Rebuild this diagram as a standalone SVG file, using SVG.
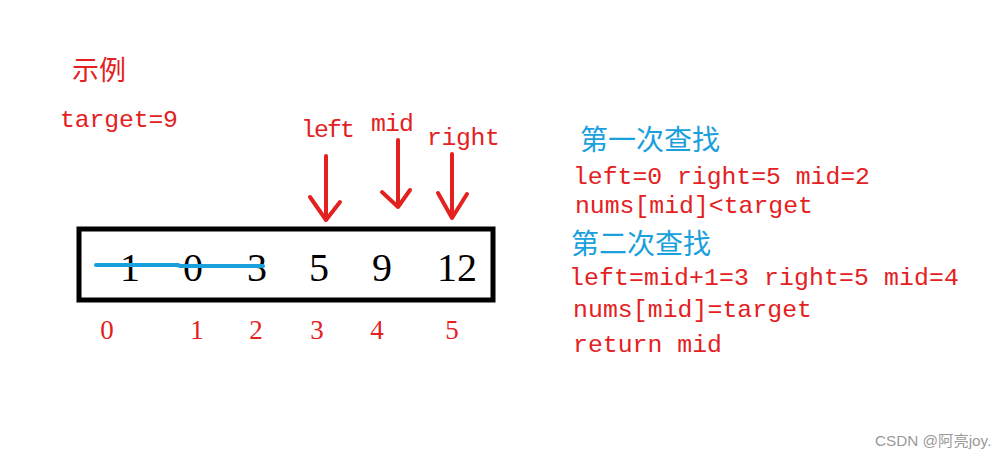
<svg xmlns="http://www.w3.org/2000/svg" width="1006" height="458" viewBox="0 0 1006 458">
<style>
.red{fill:#e3211f;font-family:"Liberation Mono",monospace;font-size:24.8px}
.cjkr{fill:#e3211f;font-family:"Noto Sans CJK SC",sans-serif;font-size:27px}
.cjkb{fill:#1aa0dc;font-family:"Noto Sans CJK SC",sans-serif;font-size:28px}
.num{fill:#000;font-family:"Liberation Serif",serif;font-size:40px;text-anchor:middle}
.idx{fill:#e3211f;font-family:"Liberation Serif",serif;font-size:27px;text-anchor:middle}
.arr{fill:none;stroke:#e3211f;stroke-width:4;stroke-linecap:round;stroke-linejoin:round}
</style>
<rect width="1006" height="458" fill="#fff"/>
<g id="title">
<text class="cjkr" x="72" y="80">示例</text>
<text class="red" x="60" y="127" textLength="118">target=9</text>
</g>
<g id="array">
<rect x="79" y="229" width="414" height="71" fill="none" stroke="#000" stroke-width="5"/>
<text class="num" x="130" y="281">1</text>
<text class="num" x="193" y="281">0</text>
<text class="num" x="257" y="281">3</text>
<text class="num" x="319" y="281">5</text>
<text class="num" x="382" y="281">9</text>
<text class="num" x="457" y="281">12</text>
<polyline points="96,265 178,265 180,266 263,266" fill="none" stroke="#1aa0dc" stroke-width="4" stroke-linecap="round"/>
</g>
<g id="indices">
<text class="idx" x="107" y="339">0</text>
<text class="idx" x="197" y="339">1</text>
<text class="idx" x="256" y="339">2</text>
<text class="idx" x="317" y="339">3</text>
<text class="idx" x="377" y="339">4</text>
<text class="idx" x="452" y="339">5</text>
</g>
<g id="pointer-labels">
<text class="red" x="301" y="137" textLength="54">left</text>
<text class="red" x="371" y="131" textLength="43">mid</text>
<text class="red" x="427" y="145" textLength="73">right</text>
</g>
<g id="connectors">
<path class="arr" d="M326,156 L326,220 M310,197 L326,220 L340,202"/>
<path class="arr" d="M398,140 L398,207 M382,192 L398,207 L410,190"/>
<path class="arr" d="M452,154 L452,218 M438,193 L452,218 L467,194"/>
</g>
<g id="steps">
<text class="cjkb" x="580" y="150">第一次查找</text>
<text class="red" x="573" y="184" textLength="297">left=0 right=5 mid=2</text>
<text class="red" x="575" y="213" textLength="238">nums[mid]&lt;target</text>
<text class="cjkb" x="571" y="254">第二次查找</text>
<text class="red" x="569" y="285" textLength="390">left=mid+1=3 right=5 mid=4</text>
<text class="red" x="573" y="317" textLength="239">nums[mid]=target</text>
<text class="red" x="573" y="352" textLength="149">return mid</text>
</g>
<g id="watermark">
<text x="875" y="446" fill="#9a9a9a" font-family="'Liberation Sans','Noto Sans CJK SC',sans-serif" font-size="15.3">CSDN @阿亮joy.</text>
</g>
</svg>
